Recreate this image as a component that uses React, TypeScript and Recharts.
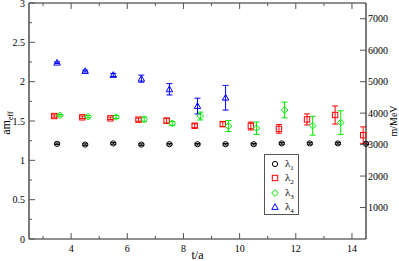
import React from 'react';
import { ErrorBar, Legend, Scatter, ScatterChart, XAxis, YAxis } from 'recharts';

// lambda_1 .. lambda_4 effective masses
const t1 = [3.5, 4.5, 5.5, 6.5, 7.5, 8.5, 9.5, 10.5, 11.5, 12.5, 13.5, 14.5];
const m1 = [1.21, 1.2, 1.215, 1.2, 1.205, 1.205, 1.205, 1.205, 1.215, 1.215, 1.215, 1.21];
const e1 = [0.01, 0.01, 0.01, 0.01, 0.01, 0.01, 0.01, 0.01, 0.01, 0.01, 0.01, 0.01];

const t2 = [3.4, 4.4, 5.4, 6.4, 7.4, 8.4, 9.4, 10.4, 11.4, 12.4, 13.4, 14.4];
const m2 = [1.563, 1.547, 1.534, 1.517, 1.504, 1.44, 1.46, 1.436, 1.4, 1.52, 1.576, 1.32];
const e2 = [0.015, 0.015, 0.015, 0.02, 0.03, 0.025, 0.03, 0.05, 0.055, 0.07, 0.115, 0.105];

const t3 = [3.6, 4.6, 5.6, 6.6, 7.6, 8.6, 9.6, 10.6, 11.6, 12.6, 13.6];
const m3 = [1.572, 1.555, 1.551, 1.521, 1.47, 1.563, 1.436, 1.407, 1.64, 1.44, 1.48];
const e3 = [0.01, 0.015, 0.02, 0.03, 0.025, 0.05, 0.07, 0.08, 0.1, 0.12, 0.15];

const t4 = [3.5, 4.5, 5.5, 6.5, 7.5, 8.5, 9.5];
const m4 = [2.241, 2.135, 2.085, 2.038, 1.903, 1.69, 1.796];
const e4 = [0.01, 0.012, 0.02, 0.045, 0.072, 0.1, 0.157];

const xTicks = [3, 4, 5, 6, 7, 8, 9, 10, 11, 12, 13, 14];
const yTicks = [0, 0.25, 0.5, 0.75, 1, 1.25, 1.5, 1.75, 2, 2.25, 2.5, 2.75, 3];
const mevTicks = [1000, 2000, 3000, 4000, 5000, 6000, 7000];

const toRows = (t: number[], m: number[], e: number[]) => t.map((x, i) => ({ x, y: m[i], err: e[i] }));

const FONT = '"Liberation Serif", "Times New Roman", "DejaVu Serif", serif';
const txt = { fontFamily: FONT };

const marker = (kind: string, color: string, cx: number, cy: number) => {
  if (kind === 'circle') return <circle cx={cx} cy={cy} r={2.6} fill="none" stroke={color} strokeWidth={1} />;
  if (kind === 'square') return <rect x={cx - 2.7} y={cy - 2.7} width={5.4} height={5.4} fill="none" stroke={color} strokeWidth={1} />;
  if (kind === 'diamond')
    return <polygon points={`${cx},${cy - 3.3} ${cx + 3.3},${cy} ${cx},${cy + 3.3} ${cx - 3.3},${cy}`} fill="none" stroke={color} strokeWidth={1} />;
  return <polygon points={`${cx},${cy - 3.3} ${cx + 3.2},${cy + 2.4} ${cx - 3.2},${cy + 2.4}`} fill="none" stroke={color} strokeWidth={1} />;
};

const series = [
  { name: '1', kind: 'circle', color: '#000000', rows: toRows(t1, m1, e1) },
  { name: '2', kind: 'square', color: '#ff0000', rows: toRows(t2, m2, e2) },
  { name: '3', kind: 'diamond', color: '#00ee00', rows: toRows(t3, m3, e3) },
  { name: '4', kind: 'triangle', color: '#0000ff', rows: toRows(t4, m4, e4) }
];

// anchors the top/right axes so they get drawn
const frameRows = [{ x: 2.5, y: 0 }];

const BottomTick = (p: any) => {
  const major = p.payload.value % 2 === 0;
  return (
    <g>
      <line x1={p.x} y1={p.y} x2={p.x} y2={p.y - (major ? 6 : 3)} stroke="#555" />
      {major && (
        <text x={p.x} y={p.y + 13} textAnchor="middle" fontSize={10} style={txt} fill="#000">
          {p.payload.value}
        </text>
      )}
    </g>
  );
};

const TopTick = (p: any) => {
  const major = p.payload.value % 2 === 0;
  return <line x1={p.x} y1={p.y} x2={p.x} y2={p.y + (major ? 6 : 3)} stroke="#555" />;
};

const LeftTick = (p: any) => {
  const major = Math.abs((p.payload.value * 2) % 1) < 1e-6;
  return (
    <g>
      <line x1={p.x} y1={p.y} x2={p.x + (major ? 6 : 3)} y2={p.y} stroke="#555" />
      {major && (
        <text x={p.x - 4} y={p.y + 3.5} textAnchor="end" fontSize={10} style={txt} fill="#000">
          {p.payload.value}
        </text>
      )}
    </g>
  );
};

const RightTick = (p: any) => (
  <g>
    <line x1={p.x} y1={p.y} x2={p.x - 6} y2={p.y} stroke="#555" />
    <text x={p.x + 2} y={p.y + 3.5} textAnchor="start" fontSize={10} style={txt} fill="#000">
      {p.payload.value}
    </text>
  </g>
);

const LegendBox = () => (
  <div style={{ width: 33, height: 59, border: '1px solid #555', background: '#fff', fontFamily: FONT, fontSize: 11 }}>
    {series.map((s, i) => (
      <div key={s.name} style={{ position: 'absolute', left: 0, top: 3 + i * 14.3, height: 14, width: 33 }}>
        <svg width={16} height={14} style={{ position: 'absolute', left: 3, top: 0 }}>
          {marker(s.kind, s.color, 8, 7)}
        </svg>
        <span style={{ position: 'absolute', left: 21, top: -1, lineHeight: '14px' }}>
          λ<sub style={{ fontSize: 7 }}>{s.name}</sub>
        </span>
      </div>
    ))}
  </div>
);

const LeftLabel = (p: any) => {
  const cy = p.viewBox.y + p.viewBox.height / 2;
  return (
    <text transform={`translate(10, ${cy + 2}) rotate(-90)`} textAnchor="middle" fontSize={12} style={txt} fill="#000">
      am<tspan fontSize={8} dy={3}>eff</tspan>
    </text>
  );
};

const RightLabel = (p: any) => {
  const cy = p.viewBox.y + p.viewBox.height / 2;
  return (
    <text transform={`translate(397, ${cy}) rotate(-90)`} textAnchor="middle" fontSize={10} style={txt} fill="#000">
      m/MeV
    </text>
  );
};

const BottomLabel = (p: any) => (
  <text x={p.viewBox.x + p.viewBox.width / 2} y={259} textAnchor="middle" fontSize={12} style={txt} fill="#000">
    t/a
  </text>
);

export default function App() {
  return (
    <div style={{ position: 'absolute', left: 0, top: 0, width: 399, height: 261, background: '#fff' }}>
      <ScatterChart width={399} height={261} margin={{ top: 0, right: 0, bottom: 0, left: 0 }}>
        <XAxis
          type="number"
          dataKey="x"
          domain={[2.5, 14.5]}
          ticks={xTicks}
          interval={0}
          height={22}
          tickSize={0}
          tickMargin={0}
          tick={<BottomTick />}
          axisLine={{ stroke: '#222', strokeWidth: 1.2 }}
          label={<BottomLabel />}
        />
        <XAxis
          xAxisId="top"
          orientation="top"
          type="number"
          dataKey="x"
          domain={[2.5, 14.5]}
          ticks={xTicks}
          interval={0}
          height={3}
          tickSize={0}
          tickMargin={0}
          tick={<TopTick />}
          axisLine={{ stroke: '#222', strokeWidth: 1.2 }}
        />
        <YAxis
          type="number"
          dataKey="y"
          domain={[0, 3]}
          ticks={yTicks}
          interval={0}
          width={29}
          tickSize={0}
          tickMargin={0}
          tick={<LeftTick />}
          axisLine={{ stroke: '#222', strokeWidth: 1.2 }}
          label={<LeftLabel />}
        />
        <YAxis
          yAxisId="right"
          orientation="right"
          type="number"
          dataKey="y"
          domain={[0, 7500]}
          ticks={mevTicks}
          interval={0}
          width={33}
          tickSize={0}
          tickMargin={0}
          tick={<RightTick />}
          axisLine={{ stroke: '#222', strokeWidth: 1.2 }}
          label={<RightLabel />}
        />
        <Scatter
          xAxisId="top"
          yAxisId="right"
          data={frameRows}
          legendType="none"
          isAnimationActive={false}
          shape={() => <g />}
        />
        {series.map((s) => (
          <Scatter
            key={s.name}
            name={s.name}
            data={s.rows}
            isAnimationActive={false}
            shape={(p: any) => marker(s.kind, s.color, p.cx, p.cy)}
          >
            <ErrorBar dataKey="err" direction="y" width={3} stroke={s.color} strokeWidth={1} />
          </Scatter>
        ))}
        <Legend
          layout="horizontal"
          verticalAlign="middle"
          align="center"
          wrapperStyle={{ left: 264, top: 154, width: 35, height: 61 }}
          content={() => <LegendBox />}
        />
      </ScatterChart>
    </div>
  );
}
